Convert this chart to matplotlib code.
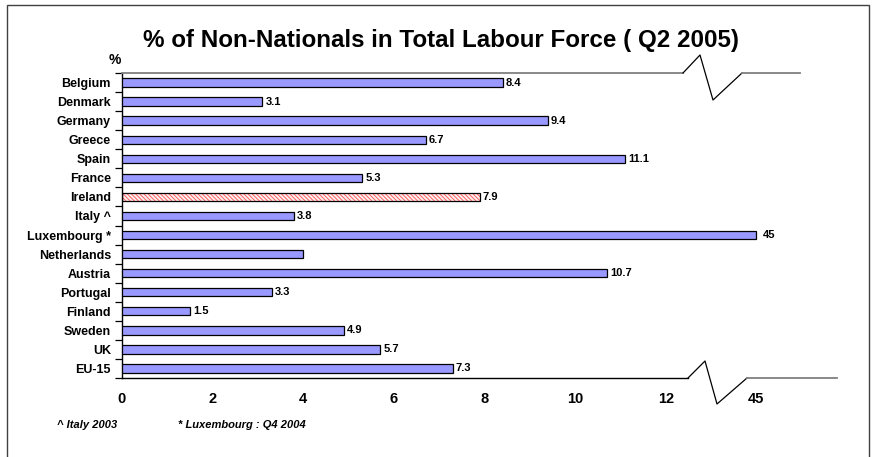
import numpy as np
import matplotlib
matplotlib.use("Agg")
import matplotlib.pyplot as plt
from matplotlib.lines import Line2D
from matplotlib.patches import Rectangle

plt.rcParams["font.family"] = ["Liberation Sans", "DejaVu Sans"]
plt.rcParams["hatch.linewidth"] = 0.7

# ---- data -------------------------------------------------------------
countries = ["Belgium", "Denmark", "Germany", "Greece", "Spain", "France",
             "Ireland", "Italy ^", "Luxembourg *", "Netherlands", "Austria",
             "Portugal", "Finland", "Sweden", "UK", "EU-15"]
share = [8.4, 3.1, 9.4, 6.7, 11.1, 5.3, 7.9, 3.8, 45.0, 4.0, 10.7,
         3.3, 1.5, 4.9, 5.7, 7.3]
value_labels = ["8.4", "3.1", "9.4", "6.7", "11.1", "5.3", "7.9", "3.8",
                "45", "", "10.7", "3.3", "1.5", "4.9", "5.7", "7.3"]
tick_values = [0, 2, 4, 6, 8, 10, 12, 45]
highlight = "Ireland"

# ---- broken x scale: linear up to the break, compressed beyond ---------
BREAK = 12.5
SQUEEZE = 1.5 / (45.0 - BREAK)


def fwd(v):
    v = np.asarray(v, dtype=float)
    return np.where(v <= BREAK, v, BREAK + (v - BREAK) * SQUEEZE)


def inv(u):
    u = np.asarray(u, dtype=float)
    return np.where(u <= BREAK, u, BREAK + (u - BREAK) / SQUEEZE)


W, H = 877, 457
fig = plt.figure(figsize=(W / 100, H / 100), dpi=100)

# axes placed in pixel terms
ax_l, ax_r, ax_t, ax_b = 122, 837, 73, 378
ax = fig.add_axes([ax_l / W, 1 - ax_b / H, (ax_r - ax_l) / W, (ax_b - ax_t) / H])

y = np.arange(len(countries))
bar_h = 0.44
bar_color = "#9999FF"

for i, (c, v) in enumerate(zip(countries, share)):
    if c == highlight:
        ax.barh(i, v, height=bar_h, color="#FFF0F0", edgecolor="#FF6060",
                hatch="\\\\\\\\\\\\\\\\", linewidth=0, zorder=2)
        ax.barh(i, v, height=bar_h, fill=False, edgecolor="black",
                linewidth=0.9, zorder=3)
    else:
        ax.barh(i, v, height=bar_h, color=bar_color, edgecolor="black",
                linewidth=0.9, zorder=3)

ax.set_xscale("function", functions=(fwd, inv))
ax.set_xlim(0, float(inv(15.78)))
ax.set_ylim(len(countries) - 0.5, -0.5)

for i, (v, lab) in enumerate(zip(share, value_labels)):
    if lab:
        gap = 7 if v > BREAK else 3
        ax.annotate(lab, (v, i), xytext=(gap, 0), textcoords="offset pixels",
                    va="center", ha="left", fontsize=8, fontweight="bold")

# y axis: labels at centres, tick marks on the category boundaries
ax.set_yticks(y)
ax.set_yticklabels(countries, fontsize=9, fontweight="bold")
ax.tick_params(axis="y", which="major", length=0, pad=8)
ax.set_yticks(np.arange(-0.5, len(countries), 1.0), minor=True)
ax.tick_params(axis="y", which="minor", length=5, width=0.9, direction="out")

ax.set_xticks(tick_values)
ax.set_xticklabels([str(t) for t in tick_values], fontsize=10.5, fontweight="bold")
ax.tick_params(axis="x", which="both", length=0, pad=10)
ax.xaxis.set_minor_locator(matplotlib.ticker.NullLocator())

for s in ["top", "right", "bottom"]:
    ax.spines[s].set_visible(False)
ax.spines["left"].set_linewidth(1.0)


def fig_line(xs, ys, **kw):
    xs = np.asarray(xs, float) / W
    ys = 1 - np.asarray(ys, float) / H
    fig.add_artist(Line2D(xs, ys, transform=fig.transFigure, **kw))


# frame lines with break zigzags
fig_line([122, 683], [73, 73], color="#808080", lw=1.3)
fig_line([683, 700, 713, 742], [73, 55, 100, 73], color="black", lw=0.9)
fig_line([742, 800], [73, 73], color="#808080", lw=1.3)
fig_line([122, 688], [378, 378], color="black", lw=1.0)
fig_line([688, 705, 717, 747], [378, 361, 404, 378], color="black", lw=0.9)
fig_line([747, 837], [378, 378], color="#808080", lw=1.3)

# outer border
fig.add_artist(Rectangle((7 / W, -0.02), (869 - 7) / W, 1 - 5 / H + 0.02,
                         transform=fig.transFigure, fill=False,
                         edgecolor="#404040", lw=1.0))

fig.text(441 / W, 1 - 40 / H, "% of Non-Nationals in Total Labour Force ( Q2 2005)",
         ha="center", va="center", fontsize=17.4, fontweight="bold")
fig.text(115 / W, 1 - 60 / H, "%", ha="center", va="center",
         fontsize=10, fontweight="bold")
fig.text(57 / W, 1 - 425 / H, "^ Italy 2003", ha="left", va="center",
         fontsize=8, fontweight="bold", style="italic")
fig.text(178 / W, 1 - 425 / H, "* Luxembourg : Q4 2004", ha="left", va="center",
         fontsize=8, fontweight="bold", style="italic")

fig.savefig("out.png", dpi=100)
